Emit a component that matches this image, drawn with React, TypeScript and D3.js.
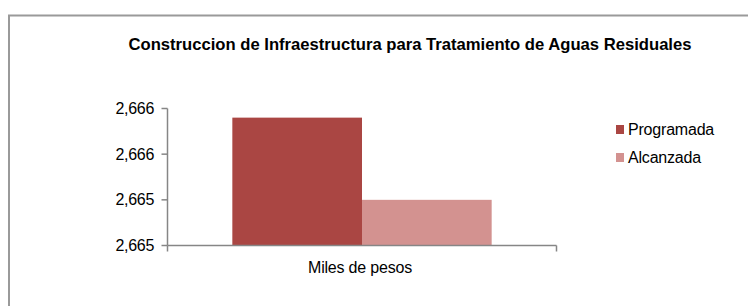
import React from 'react';
import * as d3 from 'd3';

const categories = ['Miles de pesos'];
const seriesNames = ['Programada', 'Alcanzada'];
const programada = [2665.76];
const alcanzada = [2665.4];
const yTicks = [2665.2, 2665.4, 2665.6, 2665.8];
const colors = ['#AA4643', '#D39290'];

const title = 'Construccion de Infraestructura para Tratamiento de Aguas Residuales';

const W = 748;
const H = 306;
const font = "'Liberation Sans', Arial, sans-serif";

const App: React.FC = () => {
  const plot = { left: 167.5, right: 556.5, top: 108.5, bottom: 245.5 };

  // escalas
  const y = d3.scaleLinear().domain([2665.2, 2665.8]).range([plot.bottom, plot.top]);
  const x0 = d3.scaleBand().domain(categories).range([plot.left, plot.right]).padding(0);
  const x1 = d3.scaleBand()
    .domain(seriesNames)
    .range([0, x0.bandwidth()])
    .paddingInner(0)
    .paddingOuter(0.5);
  const fmt = d3.format(',.0f');

  const values = [programada, alcanzada];

  return (
    <svg
      width={W}
      height={H}
      style={{ position: 'absolute', left: 0, top: 0, background: '#fff' }}
      fontFamily={font}
    >
      {/* marco */}
      <rect x={9} y={15.5} width={760} height={320} fill="#fff" stroke="#9a9a9a" strokeWidth={2} />

      <text
        x={410}
        y={50}
        textAnchor="middle"
        fontSize={16.5}
        fontWeight="bold"
        textLength={563}
        lengthAdjust="spacingAndGlyphs"
        fill="#000"
      >
        {title}
      </text>

      {/* barras */}
      {categories.map((c, ci) => (
        <g key={c} transform={`translate(${x0(c)},0)`}>
          {seriesNames.map((s, si) => {
            const v = values[si][ci];
            return (
              <rect
                key={s}
                x={x1(s)}
                y={y(v)}
                width={x1.bandwidth()}
                height={plot.bottom - y(v)}
                fill={colors[si]}
              />
            );
          })}
        </g>
      ))}

      {/* eje y */}
      <line x1={plot.left} x2={plot.left} y1={plot.top} y2={plot.bottom} stroke="#868686" strokeWidth={1.5} />
      {yTicks.map(t => (
        <g key={t}>
          <line x1={plot.left - 6} x2={plot.left} y1={y(t)} y2={y(t)} stroke="#868686" strokeWidth={1.5} />
          <text x={154} y={y(t) + 5.5} textAnchor="end" fontSize={16} fill="#000" letterSpacing={-0.3}>
            {fmt(t)}
          </text>
        </g>
      ))}

      {/* eje x */}
      <line x1={plot.left} x2={plot.right} y1={plot.bottom} y2={plot.bottom} stroke="#868686" strokeWidth={1.5} />
      {[plot.left, plot.right].map(px => (
        <line key={px} x1={px} x2={px} y1={plot.bottom} y2={plot.bottom + 6} stroke="#868686" strokeWidth={1.5} />
      ))}
      {categories.map(c => (
        <text
          key={c}
          x={(x0(c) ?? 0) + x0.bandwidth() / 2 - 2}
          y={273}
          textAnchor="middle"
          fontSize={16}
          fill="#000"
          letterSpacing={-0.2}
        >
          {c}
        </text>
      ))}

      {/* leyenda */}
      {seriesNames.map((s, i) => (
        <g key={s} transform={`translate(616,${125 + i * 28})`}>
          <rect x={0} y={0} width={8} height={9} fill={colors[i]} />
          <text x={12} y={9.5} fontSize={16} fill="#000" letterSpacing={-0.2}>
            {s}
          </text>
        </g>
      ))}
    </svg>
  );
};

export default App;
